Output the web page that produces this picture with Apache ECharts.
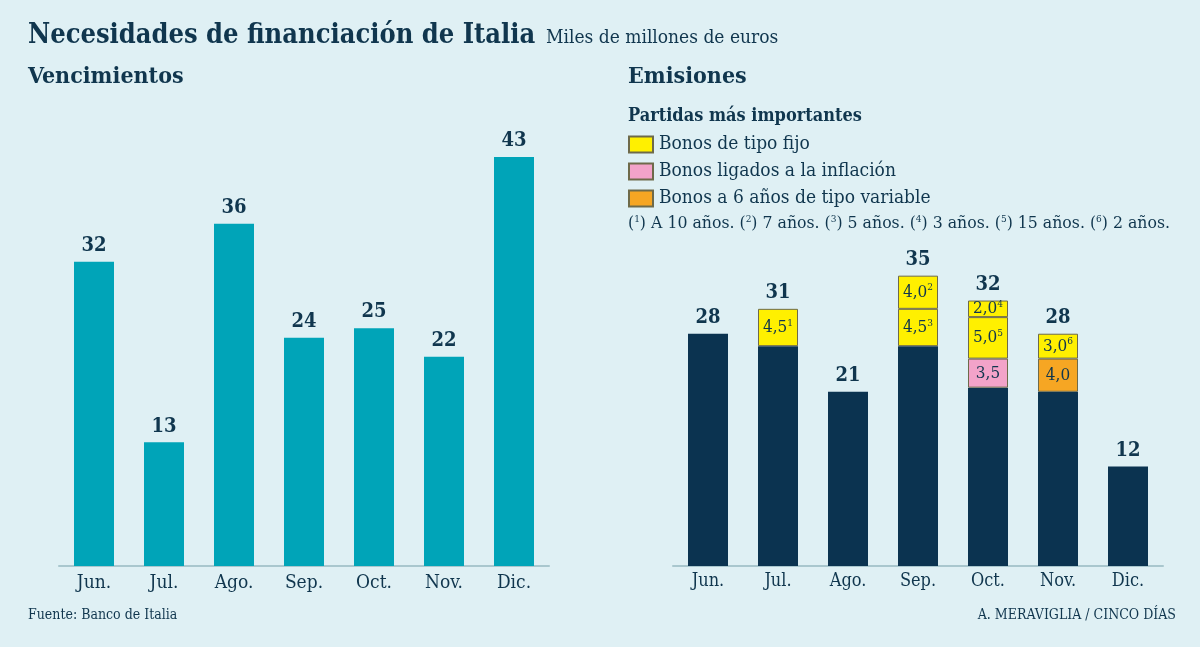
<!DOCTYPE html>
<html><head><meta charset="utf-8">
<script src="https://cdn.jsdelivr.net/npm/echarts@6/dist/echarts.min.js"></script>
<style>html,body{margin:0;padding:0;background:#dff0f4;}#c{width:1200px;height:647px;}</style>
</head><body><div id="c"></div>
<script>
const meses = ['Jun.','Jul.','Ago.','Sep.','Oct.','Nov.','Dic.'];
const vencimientos = [32,13,36,24,25,22,43];
const emisionesTotal = [28,31,21,35,32,28,12];
const resto = [28,26.5,21,26.5,21.5,21,12];
const inflacion = [null,null,null,null,3.5,null,null];
const variable6 = [null,null,null,null,null,4.0,null];
const fijo1 = [null,4.5,null,4.5,5.0,3.0,null];
const fijo1Nota = ['','1','','3','5','6',''];
const fijo2 = [null,null,null,4.0,2.0,null,null];
const fijo2Nota = ['','','','2','4','',''];

const FONT = '"DejaVu Serif Condensed","DejaVu Serif",serif';
const NAVY = '#0b3350';
const TEXT = '#10364e';
const TEAL = '#00a4b8';
const YEL = '#fff000', PINK = '#f3a3c9', ORA = '#f6a623', BORD = '#6e6a4a';

const fmt = v => v.toFixed(1).replace('.', ',');
const segRich = {v:{fontFamily:FONT,fontSize:17,color:TEXT},s:{fontFamily:FONT,fontSize:10,color:TEXT,verticalAlign:'top',padding:[0,0,9,0]}};
function segLabel(notes){
  return {show:true,position:'inside',formatter:p=>{
    if(p.value==null) return '';
    const n = notes ? notes[p.dataIndex] : '';
    return '{v|'+fmt(p.value)+'}'+(n?'{s|'+n+'}':'');
  },rich:segRich};
}
const chart = echarts.init(document.getElementById('c'));
const axisX = (gi, fs, margin)=>({type:'category',gridIndex:gi,data:meses,
  axisLine:{lineStyle:{color:'#a9c7ce',width:2}},axisTick:{show:false},
  axisLabel:{color:TEXT,fontFamily:FONT,fontSize:fs,margin:margin}});
const supRich = {t:{fontFamily:FONT,fontSize:17.5,color:TEXT},s:{fontFamily:FONT,fontSize:10,color:TEXT,verticalAlign:'top',padding:[0,0,9,0]}};
chart.setOption({
  backgroundColor:'#dff0f4',
  animation:false,
  grid:[{left:59,width:490,top:100,bottom:81},{left:673,width:490,top:201,bottom:81}],
  xAxis:[axisX(0,19,8),axisX(1,18,6)],
  yAxis:[{type:'value',gridIndex:0,min:0,max:49,show:false},{type:'value',gridIndex:1,min:0,max:44,show:false}],
  legend:{left:628,top:135,orient:'vertical',padding:0,itemWidth:24,itemHeight:16,itemGap:8,icon:'rect',
    data:['Bonos de tipo fijo','Bonos ligados a la inflación','Bonos a 6 años de tipo variable'],
    textStyle:{fontFamily:FONT,fontSize:19,color:TEXT,padding:[0,0,0,1]},selectedMode:false},
  series:[
    {type:'bar',xAxisIndex:0,yAxisIndex:0,data:vencimientos,barWidth:40,itemStyle:{color:TEAL},
      label:{show:true,position:'top',distance:6,fontFamily:FONT,fontWeight:'bold',fontSize:20,color:TEXT}},
    {type:'bar',name:'Resto',xAxisIndex:1,yAxisIndex:1,stack:'e',data:resto,barWidth:40,itemStyle:{color:NAVY}},
    {type:'bar',name:'Bonos ligados a la inflación',xAxisIndex:1,yAxisIndex:1,stack:'e',data:inflacion,barWidth:40,
      itemStyle:{color:PINK,borderColor:BORD,borderWidth:1},label:segLabel(null)},
    {type:'bar',name:'Bonos a 6 años de tipo variable',xAxisIndex:1,yAxisIndex:1,stack:'e',data:variable6,barWidth:40,
      itemStyle:{color:ORA,borderColor:BORD,borderWidth:1},label:segLabel(null)},
    {type:'bar',name:'Bonos de tipo fijo',xAxisIndex:1,yAxisIndex:1,stack:'e',data:fijo1,barWidth:40,
      itemStyle:{color:YEL,borderColor:BORD,borderWidth:1},label:segLabel(fijo1Nota)},
    {type:'bar',name:'Bonos de tipo fijo',xAxisIndex:1,yAxisIndex:1,stack:'e',data:fijo2,barWidth:40,
      itemStyle:{color:YEL,borderColor:BORD,borderWidth:1},label:segLabel(fijo2Nota)},
    {type:'scatter',name:'Total',xAxisIndex:1,yAxisIndex:1,data:emisionesTotal,symbolSize:0,silent:true,
      itemStyle:{opacity:1},
      label:{show:true,position:'top',distance:6,fontFamily:FONT,fontWeight:'bold',fontSize:20,color:TEXT}}
  ],
  graphic:[
    {type:'text',left:28,top:22,style:{text:'Necesidades de financiación de Italia',fontFamily:FONT,fontWeight:'bold',fontSize:27,fill:TEXT}},
    {type:'text',left:546,top:29,style:{text:'Miles de millones de euros',fontFamily:FONT,fontSize:19,fill:TEXT}},
    {type:'text',left:28,top:66,style:{text:'Vencimientos',fontFamily:FONT,fontWeight:'bold',fontSize:23,fill:TEXT}},
    {type:'text',left:628,top:66,style:{text:'Emisiones',fontFamily:FONT,fontWeight:'bold',fontSize:23,fill:TEXT}},
    {type:'text',left:628,top:107,style:{text:'Partidas más importantes',fontFamily:FONT,fontWeight:'bold',fontSize:18,fill:TEXT}},
    {type:'text',left:628,top:214,style:{text:'{t|(}{s|1}{t|) A 10 años. (}{s|2}{t|) 7 años. (}{s|3}{t|) 5 años. (}{s|4}{t|) 3 años. (}{s|5}{t|) 15 años. (}{s|6}{t|) 2 años.}',rich:supRich,fontFamily:FONT,fontSize:17.5,fill:TEXT}},
    {type:'text',left:28,top:608,style:{text:'Fuente: Banco de Italia',fontFamily:FONT,fontSize:14,fill:TEXT}},
    {type:'text',right:24,top:608,style:{text:'A. MERAVIGLIA / CINCO DÍAS',fontFamily:FONT,fontSize:14,fill:TEXT}}
  ]
});
</script></body></html>
